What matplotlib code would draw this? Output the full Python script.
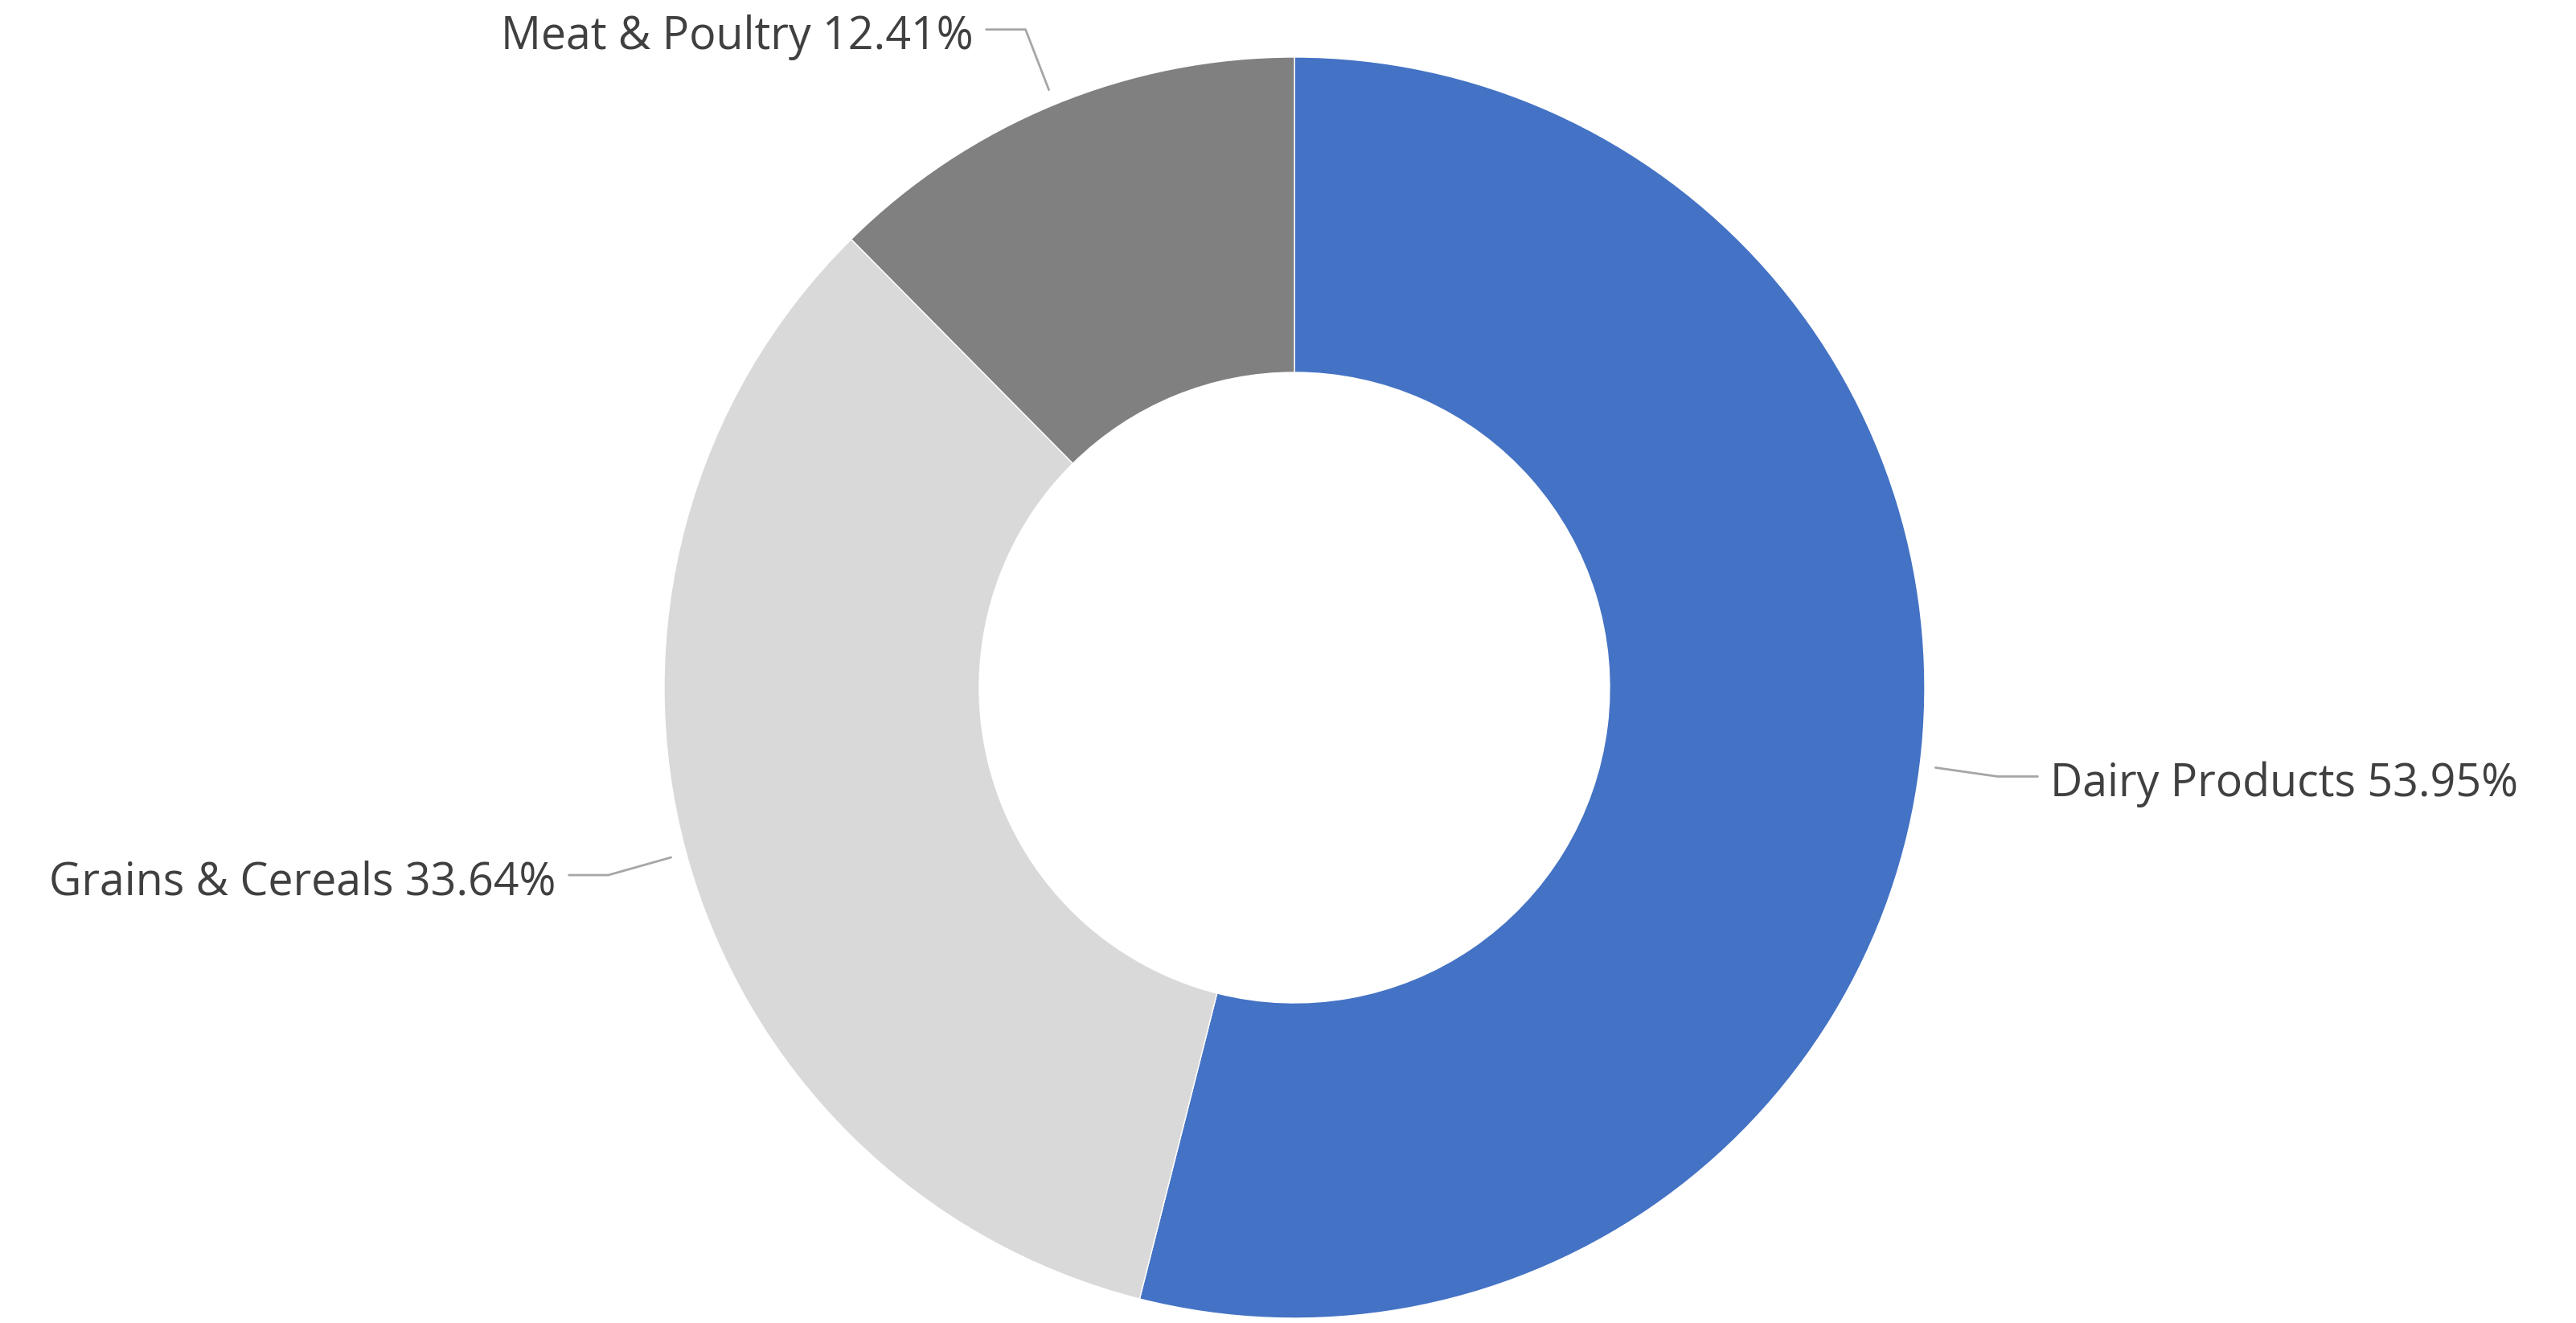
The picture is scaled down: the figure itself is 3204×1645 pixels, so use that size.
import numpy as np
import matplotlib
matplotlib.use('Agg')
import matplotlib.pyplot as plt

categories = ['Dairy Products', 'Grains & Cereals', 'Meat & Poultry']
shares = [53.95, 33.64, 12.41]
colors = ['#4472C4', '#D9D9D9', '#808080']

W, H = 3205, 1645
CX, CY, R = 1610, H - 855, 784

# label layout: (elbow dx, elbow dy, horizontal run, side)
layout = [(77, -11, 50, 1), (-78, -22, -49, -1), (-29, 75, -49, -1)]

fig = plt.figure(figsize=(W / 100, H / 100), dpi=100)
ax = fig.add_axes([0, 0, 1, 1])
wedges, _ = ax.pie(shares, colors=colors, startangle=90, counterclock=False,
                   center=(CX, CY), radius=R,
                   wedgeprops=dict(width=R * 0.5, edgecolor='white', linewidth=1))
ax.set_xlim(0, W)
ax.set_ylim(0, H)
ax.set_aspect('auto')
ax.axis('off')

for w, cat, val, (dx, dy, run, side) in zip(wedges, categories, shares, layout):
    ang = np.deg2rad((w.theta1 + w.theta2) / 2)
    x0 = CX + R * 1.025 * np.cos(ang)
    y0 = CY + R * 1.025 * np.sin(ang)
    x1, y1 = x0 + dx, y0 + dy
    x2 = x1 + run
    ax.plot([x0, x1, x2], [y0, y1, y1], color='#A6A6A6', lw=2,
            solid_capstyle='round')
    ax.text(x2 + side * 16, y1 - 10, f'{cat} {val:.2f}%', ha='left' if side > 0 else 'right',
            va='center', fontsize=40, color='#404040', family='Open Sans')

fig.savefig('out.png', dpi=100)
